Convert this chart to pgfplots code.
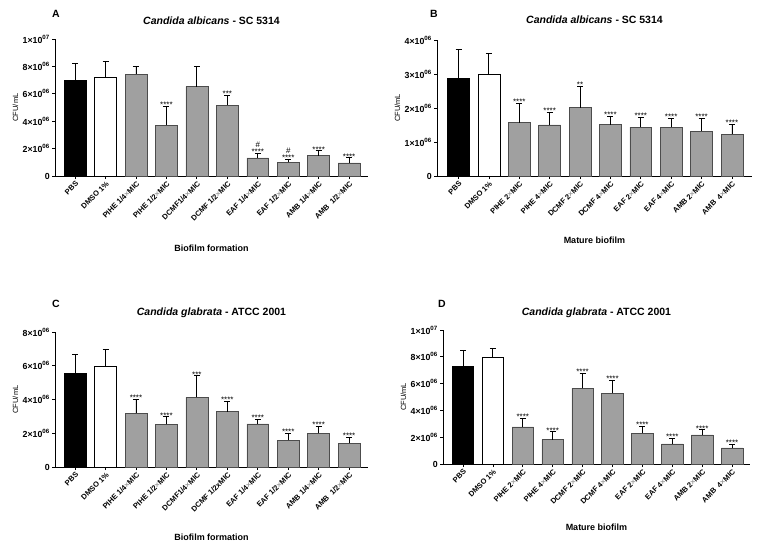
\documentclass[border=0pt]{standalone}
\usepackage{pgfplots}
\pgfplotsset{compat=1.18}
\usepackage{fontspec}
\setmainfont{Liberation Sans}
\definecolor{bargray}{RGB}{160,160,160}
\newcommand{\tl}[2]{#1×10\textsuperscript{#2}}
\newcommand{\mx}{{\color{black!40}×}}
\pgfplotsset{
 panel/.style={
  scale only axis, anchor=south west, clip=false,
  axis x line*=bottom, axis y line*=left,
  axis line style={line width=0.9pt},
  ymin=0, xtick={0,...,9}, scaled y ticks=false,
  tick align=outside, major tick length=3pt,
  tick style={black, line width=0.8pt},
  xticklabel style={rotate=45, anchor=north east, font=\bfseries\fontsize{7.5}{8}\selectfont, inner sep=1pt},
  yticklabel style={font=\bfseries\fontsize{8.8}{10}\selectfont, inner sep=2pt},
  title style={font=\bfseries\fontsize{10.5}{12}\selectfont, at={(0.5,1)}, anchor=base, yshift=9pt},
  ylabel style={font=\fontsize{7.5}{8}\selectfont, yshift=-1pt},
  xlabel style={font=\bfseries\fontsize{9}{10}\selectfont, at={(0.5,0)}, anchor=base},
 },
 bplot/.style={ybar, bar width=0.72, bar shift=0pt, line width=0.6pt,
  /pgfplots/error bars/y dir=plus, /pgfplots/error bars/y explicit,
  /pgfplots/error bars/error bar style={black, line width=0.9pt},
  /pgfplots/error bars/error mark options={rotate=90, black, mark size=3pt, line width=0.9pt}},
 stars/.style={draw=none, mark=none, point meta=explicit symbolic, nodes near coords,
  nodes near coords style={font=\fontsize{8}{9}\selectfont, anchor=base, inner sep=0pt, yshift=-1.3pt}},
 hash/.style={draw=none, mark=none, point meta=explicit symbolic, nodes near coords,
  nodes near coords style={font=\fontsize{8}{9}\selectfont, anchor=base, inner sep=0pt, yshift=6pt}},
}
\begin{document}
\begin{tikzpicture}
\useasboundingbox (0,0) rectangle (758pt,547pt);
% ---------------- A
\begin{axis}[panel, at={(55pt,371pt)}, width=313pt, height=137pt,
  xmin=-0.66, xmax=9.62, ymax=1e7,
  ytick={0,2e6,4e6,6e6,8e6,1e7},
  yticklabels={0,\tl{2}{06},\tl{4}{06},\tl{6}{06},\tl{8}{06},\tl{1}{07}},
  xticklabels={PBS,DMSO 1\%,PIHE 1/4\mx MIC,PIHE 1/2\mx MIC,DCMF1/4\mx MIC,DCMF 1/2\mx MIC,EAF 1/4\mx MIC,EAF 1/2\mx MIC,AMB 1/4\mx MIC,AMB\ \ 1/2\mx MIC},
  title={\textit{Candida albicans} - SC 5314}, xlabel={Biofilm formation}, ylabel={CFU/mL},
  xlabel style={yshift=-75pt}, title style={yshift=-1pt}]
\addplot[fill=black, draw=black, bplot] coordinates {(0,6.97e6) +- (0,1.27e6)};
\addplot[fill=white, draw=black, bplot] coordinates {(1,7.21e6) +- (0,1.15e6)};
\addplot[fill=bargray, draw=black!70, bplot] coordinates {
 (2,7.43e6) +- (0,0.57e6) (3,3.72e6) +- (0,1.34e6) (4,6.53e6) +- (0,1.47e6)
 (5,5.18e6) +- (0,0.69e6) (6,1.32e6) +- (0,0.32e6) (7,1.00e6) +- (0,0.20e6)
 (8,1.49e6) +- (0,0.34e6) (9,0.95e6) +- (0,0.37e6)};
\addplot[stars] coordinates {(3,5.06e6) [****] (5,5.87e6) [***] (6,1.64e6) [****] (7,1.20e6) [****] (8,1.83e6) [****] (9,1.32e6) [****]};
\addplot[hash] coordinates {(6,1.64e6) [\#] (7,1.20e6) [\#]};
\end{axis}
% ---------------- B
\begin{axis}[panel, at={(437pt,371pt)}, width=315pt, height=136pt,
  xmin=-0.71, xmax=9.66, ymax=4e6,
  ytick={0,1e6,2e6,3e6,4e6},
  yticklabels={0,\tl{1}{06},\tl{2}{06},\tl{3}{06},\tl{4}{06}},
  xticklabels={PBS,DMSO 1\%,PIHE 2\mx MIC,PIHE 4\mx MIC,DCMF 2\mx MIC,DCMF 4\mx MIC,EAF 2\mx MIC,EAF 4\mx MIC,AMB 2\mx MIC,AMB\ \ 4\mx MIC},
  title={\textit{Candida albicans} - SC 5314}, xlabel={Mature biofilm}, ylabel={CFU/mL},
  xlabel style={yshift=-68pt}, title style={yshift=1pt}]
\addplot[fill=black, draw=black, bplot] coordinates {(0,2.86e6) +- (0,0.86e6)};
\addplot[fill=white, draw=black, bplot] coordinates {(1,2.98e6) +- (0,0.62e6)};
\addplot[fill=bargray, draw=black!70, bplot] coordinates {
 (2,1.57e6) +- (0,0.56e6) (3,1.50e6) +- (0,0.37e6) (4,2.01e6) +- (0,0.63e6)
 (5,1.51e6) +- (0,0.24e6) (6,1.44e6) +- (0,0.28e6) (7,1.43e6) +- (0,0.27e6)
 (8,1.32e6) +- (0,0.38e6) (9,1.23e6) +- (0,0.29e6)};
\addplot[stars] coordinates {(2,2.13e6) [****] (3,1.87e6) [****] (4,2.64e6) [**] (5,1.75e6) [****] (6,1.72e6) [****] (7,1.70e6) [****] (8,1.70e6) [****] (9,1.52e6) [****]};
\end{axis}
% ---------------- C
\begin{axis}[panel, at={(55pt,80pt)}, width=313pt, height=135pt,
  xmin=-0.66, xmax=9.62, ymax=8e6,
  ytick={0,2e6,4e6,6e6,8e6},
  yticklabels={0,\tl{2}{06},\tl{4}{06},\tl{6}{06},\tl{8}{06}},
  xticklabels={PBS,DMSO 1\%,PIHE 1/4\mx MIC,PIHE 1/2\mx MIC,DCMF1/4\mx MIC,DCMF 1/2xMIC,EAF 1/4\mx MIC,EAF 1/2\mx MIC,AMB 1/4\mx MIC,AMB\ \ 1/2\mx MIC},
  title={\textit{Candida glabrata} - ATCC 2001}, xlabel={Biofilm formation}, ylabel={CFU/mL},
  xlabel style={yshift=-73pt}, title style={yshift=2pt}]
\addplot[fill=black, draw=black, bplot] coordinates {(0,5.57e6) +- (0,1.11e6)};
\addplot[fill=white, draw=black, bplot] coordinates {(1,5.95e6) +- (0,0.99e6)};
\addplot[fill=bargray, draw=black!70, bplot] coordinates {
 (2,3.18e6) +- (0,0.83e6) (3,2.53e6) +- (0,0.45e6) (4,4.13e6) +- (0,1.27e6)
 (5,3.28e6) +- (0,0.61e6) (6,2.55e6) +- (0,0.28e6) (7,1.60e6) +- (0,0.38e6)
 (8,2.00e6) +- (0,0.39e6) (9,1.42e6) +- (0,0.34e6)};
\addplot[stars] coordinates {(2,4.01e6) [****] (3,2.98e6) [****] (4,5.40e6) [***] (5,3.89e6) [****] (6,2.83e6) [****] (7,1.98e6) [****] (8,2.39e6) [****] (9,1.76e6) [****]};
\end{axis}
% ---------------- D
\begin{axis}[panel, at={(443pt,83pt)}, width=307pt, height=134pt,
  xmin=-0.67, xmax=9.6, ymax=1e7,
  ytick={0,2e6,4e6,6e6,8e6,1e7},
  yticklabels={0,\tl{2}{06},\tl{4}{06},\tl{6}{06},\tl{8}{06},\tl{1}{07}},
  xticklabels={PBS,DMSO 1\%,PIHE 2\mx MIC,PIHE 4\mx MIC,DCMF 2\mx MIC,DCMF 4\mx MIC,EAF 2\mx MIC,EAF 4\mx MIC,AMB 2\mx MIC,AMB\ \ 4\mx MIC},
  title={\textit{Candida glabrata} - ATCC 2001}, xlabel={Mature biofilm}, ylabel={CFU/mL},
  xlabel style={yshift=-66pt}, title style={yshift=0pt}]
\addplot[fill=black, draw=black, bplot] coordinates {(0,7.29e6) +- (0,1.17e6)};
\addplot[fill=white, draw=black, bplot] coordinates {(1,7.99e6) +- (0,0.62e6)};
\addplot[fill=bargray, draw=black!70, bplot] coordinates {
 (2,2.77e6) +- (0,0.65e6) (3,1.82e6) +- (0,0.58e6) (4,5.64e6) +- (0,1.10e6)
 (5,5.29e6) +- (0,0.98e6) (6,2.30e6) +- (0,0.50e6) (7,1.50e6) +- (0,0.42e6)
 (8,2.17e6) +- (0,0.38e6) (9,1.20e6) +- (0,0.25e6)};
\addplot[stars] coordinates {(2,3.42e6) [****] (3,2.40e6) [****] (4,6.74e6) [****] (5,6.27e6) [****] (6,2.80e6) [****] (7,1.92e6) [****] (8,2.55e6) [****] (9,1.45e6) [****]};
\end{axis}
% panel letters
\node[anchor=base west, font=\bfseries\fontsize{10.5}{12}\selectfont, inner sep=0pt] at (52pt,529pt) {A};
\node[anchor=base west, font=\bfseries\fontsize{10.5}{12}\selectfont, inner sep=0pt] at (430pt,529pt) {B};
\node[anchor=base west, font=\bfseries\fontsize{10.5}{12}\selectfont, inner sep=0pt] at (52pt,239pt) {C};
\node[anchor=base west, font=\bfseries\fontsize{10.5}{12}\selectfont, inner sep=0pt] at (438pt,239pt) {D};
\end{tikzpicture}
\end{document}
